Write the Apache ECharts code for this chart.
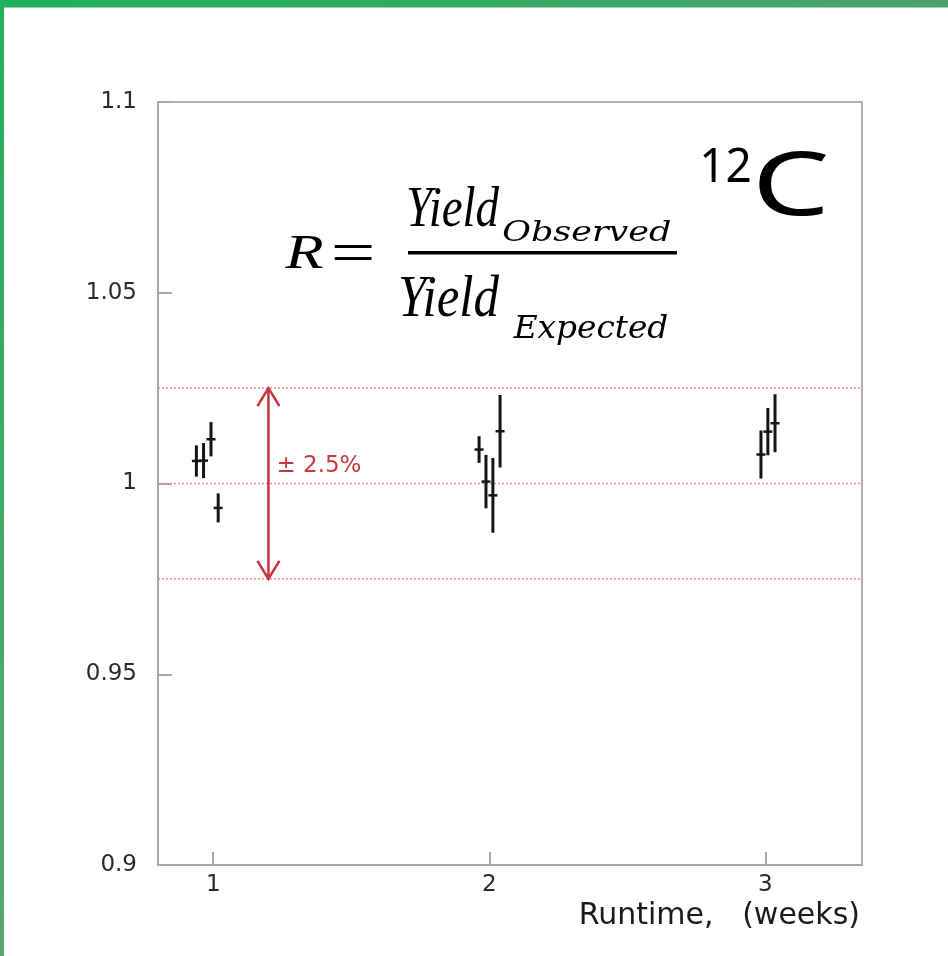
<!DOCTYPE html>
<html><head><meta charset="utf-8">
<script src="https://cdn.jsdelivr.net/npm/echarts@6/dist/echarts.min.js"></script>
<style>html,body{margin:0;padding:0;background:#fff}#chart{width:948px;height:956px}</style>
</head><body><div id="chart"></div>
<script>
// ---- data ----
const weeks  = [0.939, 0.965, 0.992, 1.018, 1.963, 1.988, 2.013, 2.039, 2.984, 3.009, 3.035];
const ratios = [1.0059, 1.0060, 1.0116, 0.9936, 1.0089, 1.0005, 0.9969, 1.0137, 1.0076, 1.0136, 1.0158];
const errors = [0.0041, 0.0046, 0.0045, 0.0038, 0.0035, 0.0070, 0.0098, 0.0095, 0.0063, 0.0062, 0.0076];
const bandLevels = [1.025, 1.0, 0.975];
const bandArrow = [1.2, 0.975, 1.025];
const bandLabel = '± 2.5%';
const yTicks = [0.9, 0.95, 1, 1.05, 1.1];
const xTicks = [1, 2, 3];
const xAxisName = 'Runtime,   (weeks)';
const isotopeMass = '12';
const isotopeSymbol = 'C';

const points = weeks.map((w, i) => [w, ratios[i], errors[i]]);
const RED = '#c8323c';

const cv = document.createElement('canvas');
const ctx = cv.getContext('2d');
function fitText(text, font, box, color) {
  ctx.font = font; ctx.textBaseline = 'middle'; ctx.textAlign = 'left';
  const m = ctx.measureText(text);
  const inkL = -m.actualBoundingBoxLeft, inkR = m.actualBoundingBoxRight;
  const inkT = -m.actualBoundingBoxAscent, inkB = m.actualBoundingBoxDescent;
  const sx = (box.r - box.l) / (inkR - inkL);
  const sy = (box.b - box.t) / (inkB - inkT);
  return {type: 'text', x: box.l - sx * inkL, y: box.t - sy * inkT, scaleX: sx, scaleY: sy,
    silent: true, z: 100,
    style: {text: text, font: font, fill: color, align: 'left', verticalAlign: 'middle', x: 0, y: 0}};
}

const serifI = 'italic 50px "DejaVu Serif"';
const serifI2 = 'italic 50px "Liberation Serif"';
const serif = '50px "Liberation Serif"';
const sans = '60px "Noto Sans"';

const graphics = [
  {type: 'rect', shape: {x: 0, y: 0, width: 948, height: 7.5}, silent: true, z: 200,
   style: {fill: new echarts.graphic.LinearGradient(0, 0, 1, 0, [{offset: 0, color: '#1fb05a'}, {offset: 1, color: '#4ca46c'}])}},
  {type: 'rect', shape: {x: 0, y: 0, width: 4, height: 956}, silent: true, z: 200,
   style: {fill: new echarts.graphic.LinearGradient(0, 0, 0, 1, [{offset: 0, color: '#20b05a'}, {offset: 1, color: '#5ca672'}])}},
  fitText('R', serifI2, {l: 284, r: 323, t: 236.7, b: 268.3}, '#000'),
  fitText('=', serif, {l: 334, r: 372, t: 245, b: 260.7}, '#000'),
  fitText('Yield', serifI2, {l: 408, r: 500, t: 186, b: 227.5}, '#000'),
  fitText('Observed', serifI, {l: 503, r: 670, t: 220, b: 242}, '#000'),
  {type: 'rect', shape: {x: 408, y: 251, width: 269, height: 3.5}, silent: true, z: 100, style: {fill: '#000'}},
  fitText('Yield', serifI2, {l: 400, r: 500, t: 273, b: 316.7}, '#000'),
  fitText('Expected', serifI, {l: 513, r: 667, t: 314, b: 345}, '#000'),
  fitText(isotopeMass, sans, {l: 703, r: 750, t: 147, b: 182}, '#000'),
  fitText(isotopeSymbol, sans, {l: 758, r: 828, t: 150, b: 216}, '#000')
];

const chart = echarts.init(document.getElementById('chart'), null, {renderer: 'canvas'});
chart.setOption({
  animation: false,
  backgroundColor: '#fff',
  grid: {left: 158, right: 86, top: 102, bottom: 91, show: true, borderColor: '#b0b0b0', borderWidth: 2, backgroundColor: 'transparent'},
  xAxis: {
    type: 'value', min: 0.8, max: 3.35,
    name: xAxisName, nameLocation: 'end', nameGap: -2,
    nameTextStyle: {fontFamily: 'DejaVu Sans', fontSize: 30, color: '#1a1a1a', align: 'right', verticalAlign: 'top', padding: [36, 0, 0, 0]},
    axisLine: {show: true, lineStyle: {color: '#a8a8a8', width: 2}},
    axisTick: {show: true, inside: true, length: 13, customValues: xTicks, lineStyle: {color: '#a8a8a8', width: 2}},
    axisLabel: {show: true, customValues: xTicks, margin: 9, fontFamily: 'DejaVu Sans', fontSize: 23, color: '#2a2a2a'},
    splitLine: {show: false}
  },
  yAxis: {
    type: 'value', min: 0.9, max: 1.1, interval: 0.05,
    axisLine: {show: true, lineStyle: {color: '#a8a8a8', width: 2}},
    axisTick: {show: true, inside: true, length: 14, lineStyle: {color: '#a8a8a8', width: 2}},
    axisLabel: {show: true, margin: 21, fontFamily: 'DejaVu Sans', fontSize: 23, color: '#2a2a2a',
      formatter: v => { const t = yTicks.find(k => Math.abs(k - v) < 1e-6); return t === undefined ? '' : String(t); }},
    splitLine: {show: false}
  },
  graphic: graphics,
  series: [
    {
      type: 'custom', name: 'levels', data: bandLevels.map(v => [1, v]), encode: {x: 0, y: 1}, z: 3,
      renderItem: function (params, api) {
        const cs = params.coordSys;
        const y = api.coord([1, api.value(1)])[1];
        return {type: 'line', shape: {x1: cs.x, y1: y, x2: cs.x + cs.width, y2: y},
          style: {stroke: '#e58e8e', lineWidth: 1.5, lineDash: [2, 2]}};
      }
    },
    {
      type: 'custom', name: 'R', data: points, encode: {x: 0, y: 1}, z: 5,
      renderItem: function (params, api) {
        const x = api.value(0), y = api.value(1), e = api.value(2);
        const c = api.coord([x, y]), t = api.coord([x, y + e]), b = api.coord([x, y - e]);
        return {type: 'group', children: [
          {type: 'line', shape: {x1: c[0], y1: t[1], x2: c[0], y2: b[1]}, style: {stroke: '#141414', lineWidth: 3}},
          {type: 'line', shape: {x1: c[0] - 4.5, y1: c[1], x2: c[0] + 4.5, y2: c[1]}, style: {stroke: '#141414', lineWidth: 2.5}}
        ]};
      }
    },
    {
      type: 'custom', name: 'band', data: [bandArrow], encode: {x: 0, y: [1, 2]}, z: 6,
      renderItem: function (params, api) {
        const x = api.value(0), lo = api.value(1), hi = api.value(2);
        const t = api.coord([x, hi]), b = api.coord([x, lo]), m = api.coord([x, (lo + hi) / 2]);
        return {type: 'group', children: [
          {type: 'line', shape: {x1: t[0], y1: t[1], x2: b[0], y2: b[1]}, style: {stroke: RED, lineWidth: 2.5}},
          {type: 'polyline', shape: {points: [[t[0] - 11, t[1] + 18], [t[0], t[1]], [t[0] + 11, t[1] + 18]]}, style: {stroke: RED, lineWidth: 2.5, fill: 'none'}},
          {type: 'polyline', shape: {points: [[b[0] - 11, b[1] - 18], [b[0], b[1]], [b[0] + 11, b[1] - 18]]}, style: {stroke: RED, lineWidth: 2.5, fill: 'none'}},
          {type: 'text', x: t[0] + 8, y: m[1] - 17, style: {text: bandLabel, font: '23px "DejaVu Sans"', fill: '#c7383e', align: 'left', verticalAlign: 'middle'}}
        ]};
      }
    }
  ]
});
</script></body></html>
